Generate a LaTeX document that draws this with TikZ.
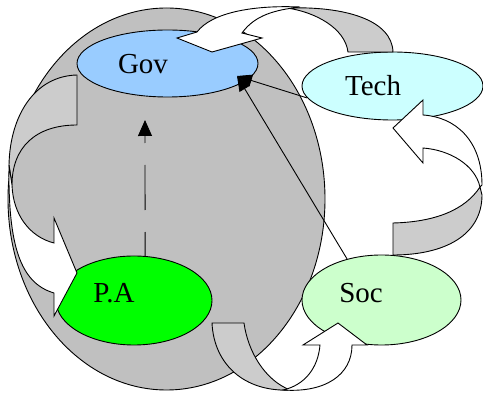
\documentclass[tikz,border=0pt]{standalone}
\usepackage{fontspec}
\setmainfont{Liberation Serif}
\usetikzlibrary{arrows.meta, positioning, shapes.geometric}

\definecolor{ovalgray}{HTML}{C0C0C0}
\definecolor{bandgray}{HTML}{CCCCCC}
\definecolor{govblue}{HTML}{99CCFF}
\definecolor{techcyan}{HTML}{CCFFFF}
\definecolor{socgreen}{HTML}{CCFFCC}
\definecolor{pagreen}{HTML}{00FF00}

\begin{document}
\begin{tikzpicture}[x=1pt, y=-1pt, line width=0.9pt,
    oval/.style={draw, ellipse, inner sep=0pt},
    caption/.style={inner sep=0pt, anchor=base, font=\fontsize{29}{34}\selectfont},
    backband/.style={draw, fill=bandgray},
    frontband/.style={draw, fill=white},
    link/.style={-{Triangle[length=15pt,width=12pt]}}]
    \useasboundingbox (0,0) rectangle (483,395);

    % Big grey oval
    \node (system) [oval, fill=ovalgray, minimum width=317pt, minimum height=382pt] at (166.5,199) {};
    % Top oval
    \node (gov) [oval, fill=govblue, minimum width=181pt, minimum height=67pt] at (167.5,63.5) {};
    % Right ovals
    \node (tech) [oval, fill=techcyan, minimum width=181pt, minimum height=68pt] at (392.5,86) {};
    \node (soc) [oval, fill=socgreen, minimum width=159pt, minimum height=90pt] at (381.5,300) {};
    % Bottom-left oval
    \node (pa) [oval, fill=pagreen, minimum width=156pt, minimum height=89pt] at (134,300.5) {};

    % Curved arrow Gov -> P.A
    \path[backband] (77,75) -- (77,125) .. controls (35,125) and (12,148) .. (12,185)
        -- (9,165) .. controls (10,115) and (35,76) .. (77,75) -- cycle;
    \path[frontband] (9,165) .. controls (8,245) and (20,283) .. (54,293) -- (54,316) -- (77,273)
        -- (54,218) -- (54,243) .. controls (30,237) and (13,215) .. (12,185) -- cycle;

    % Curved arrow Tech -> Gov
    \path[backband] (348,52) -- (393,52) .. controls (392,20) and (345,6) .. (287,8)
        .. controls (315,12) and (345,28) .. (348,52) -- cycle;
    \path[frontband] (197,32) .. controls (212,12) and (255,5) .. (300,7)
        .. controls (275,10) and (255,15) .. (242,33) -- (262,38) -- (212,52) -- (177,38) -- cycle;

    % Curved arrow Soc -> Tech
    \path[backband] (393,223) -- (393,255) .. controls (445,255) and (482,235) .. (482,195)
        -- (480,187) .. controls (465,210) and (435,222) .. (393,223) -- cycle;
    \path[frontband] (482,185) .. controls (482,140) and (455,117) .. (423,115) -- (423,100)
        -- (393,128) -- (423,163) -- (423,148) .. controls (450,150) and (475,165) .. (480,187) -- cycle;

    % Curved arrow P.A -> Soc
    \path[backband] (212,323) -- (244,323) .. controls (248,352) and (265,380) .. (290,390)
        .. controls (245,392) and (214,365) .. (212,323) -- cycle;
    \path[frontband] (283,390) .. controls (325,393) and (352,375) .. (352,345) -- (367,345)
        -- (338,323) -- (303,345) -- (320,345) .. controls (318,368) and (305,385) .. (283,390) -- cycle;

    % Labels
    \node (govtext) [caption] at (143,74) {Gov};
    \node (techtext) [caption] at (373,96) {Tech};
    \node (soctext) [caption] at (361,303) {Soc};
    \node (patext) [caption] at (114,303) {P.A};

    % Straight arrows
    \coordinate (govtip) at (237,76);
    \coordinate (dashtip) at (145,120);
    \draw[-{Triangle[length=16pt,width=14pt]}, dash pattern=on 45pt off 22pt, dash phase=21pt] (pa.76) -- (dashtip);
    \draw[link] (soc.130) -- (govtip);
    \draw[link] (tech.188) -- (govtip);
\end{tikzpicture}
\end{document}
